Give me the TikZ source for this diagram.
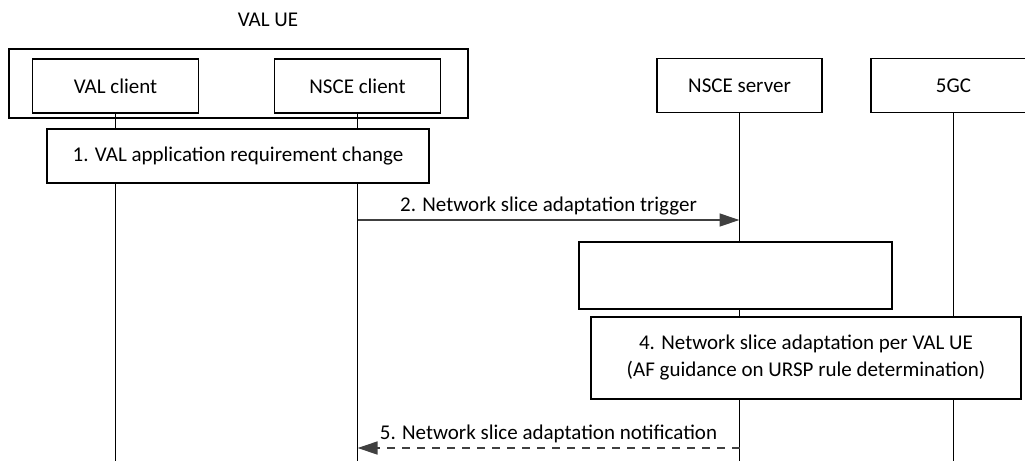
\documentclass[tikz,border=0pt]{standalone}
\usepackage{fontspec}
\setmainfont{Carlito}
\usetikzlibrary{arrows.meta}

\begin{document}
\begin{tikzpicture}[x=0.5pt, y=-0.5pt, line width=0.65pt, font=\fontsize{10.5}{13.5}\selectfont,
  entity/.style={rectangle, draw, fill=white, minimum width=83pt, minimum height=27pt, inner sep=0pt},
  stepbox/.style={rectangle, draw, fill=white, inner sep=0pt, align=center},
  lifeline/.style={draw},
  msg/.style={draw=black!75, -{Triangle[length=10pt, width=6.5pt]}},
  reply/.style={msg, dash pattern=on 4pt off 3.5pt}]
\useasboundingbox (0,0) rectangle (1025,461);
% VAL UE group
\node (ue) at (268,20) {VAL UE};
\node (uebox) [rectangle, draw, minimum width=229.5pt, minimum height=34.5pt] at (238.5,83.5) {};
% entities
\node (valc) [entity] at (115.5,86) {VAL client};
\node (nscec) [entity] at (357.5,86) {NSCE client};
\node (nsces) [entity, minimum width=82.5pt] at (739.5,85.5) {NSCE server};
\node (fivegc) [entity, minimum width=82.5pt] at (953.5,85.5) {5GC};
% lifeline ends
\coordinate (valend) at (115.5,461);
\coordinate (nsceend) at (357.5,461);
\coordinate (serverend) at (739.5,461);
\coordinate (fivegcend) at (953.5,461);
\draw[lifeline] (valc) -- (valend);
\draw[lifeline] (nscec) -- (nsceend);
\draw[lifeline] (nsces) -- (serverend);
\draw[lifeline] (fivegc) -- (fivegcend);
% steps
\node (step1) [stepbox, minimum width=191pt, minimum height=27pt] at (238,156) {1. VAL application requirement change};
\coordinate (a2s) at (357.5,220);
\coordinate (a2e) at (739.5,220);
\draw[msg] (a2s) -- node[above, text=black, yshift=-1pt] {2. Network slice adaptation trigger} (a2e);
\node (step3) [stepbox, minimum width=156.5pt, minimum height=33.5pt] at (735.5,275.5) {};
\node (step4) [stepbox, minimum width=215pt, minimum height=41pt] at (806,358) {4. Network slice adaptation per VAL UE\\(AF guidance on URSP rule determination)};
\coordinate (a5s) at (739.5,448);
\coordinate (a5e) at (357.5,448);
\draw[reply] (a5s) -- node[above, text=black, yshift=-1pt, solid] {5. Network slice adaptation notification} (a5e);
\end{tikzpicture}
\end{document}
